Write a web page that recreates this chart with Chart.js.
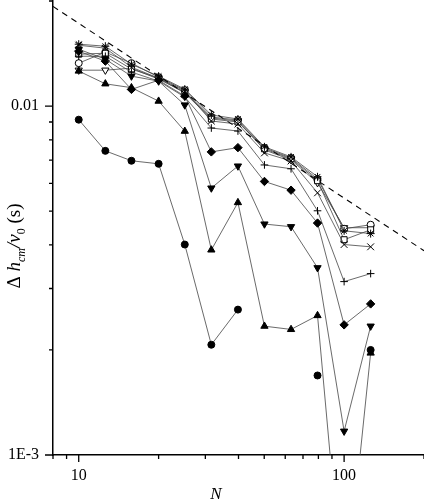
<!DOCTYPE html>
<html>
<head>
<meta charset="utf-8">
<script src="https://cdn.jsdelivr.net/npm/chart.js@4.4.0/dist/chart.umd.min.js"></script>
<style>
  html, body { margin: 0; padding: 0; background: #fff; }
  #wrap { width: 424px; height: 502px; position: relative; }
</style>
</head>
<body>
<div id="wrap"><canvas id="chartCanvas"></canvas></div>
<script>
// system sizes N (log spaced)
const nValues = [10, 12.6, 15.8, 20, 25.1, 31.6, 39.8, 50.1, 63.1, 79.4, 100, 125.9];

// delta h_cm / v_0 (s), one list per symbol
const filledCircle   = [0.00914, 0.00744, 0.00697, 0.00683, 0.00401, 0.00207, 0.00261, null, null, 0.00169, null, 0.00200];
const filledUp       = [0.0126, 0.01158, 0.01129, 0.01033, 0.00847, 0.00387, 0.00529, 0.00234, 0.00229, 0.00251, 0.00036, 0.00196];
const filledDown     = [0.01455, 0.01362, 0.01218, 0.01179, 0.01007, 0.00582, 0.00673, 0.00459, 0.00451, 0.00344, 0.00117, 0.00234];
const filledDiamond  = [0.01436, 0.01345, 0.01116, 0.01186, 0.01068, 0.00739, 0.0076, 0.00608, 0.00574, 0.00462, 0.00236, 0.00271];
const plusSeries     = [0.01389, 0.01389, 0.01251, 0.01179, 0.01061, 0.00865, 0.00848, 0.00678, 0.00661, 0.00501, 0.00314, 0.00331];
const crossSeries    = [0.01494, 0.01465, 0.01292, 0.01202, 0.01104, 0.00906, 0.00888, 0.00734, 0.00696, 0.00564, 0.00401, 0.00395];
const openSquare     = [0.01408, 0.01417, 0.01276, 0.01202, 0.01089, 0.00918, 0.009, 0.00754, 0.00706, 0.00611, 0.00414, 0.00442];
const openCircle     = [0.01327, 0.01427, 0.01327, 0.0121, 0.01111, 0.0093, 0.00912, 0.00759, 0.0071, 0.00618, 0.00445, 0.00457];
const openDown       = [0.01267, 0.01267, 0.01284, 0.01194, 0.01096, 0.00924, 0.00906, 0.00749, 0.00701, 0.00603, 0.00448, 0.00448];
const starSeries     = [0.01504, 0.01484, 0.01318, 0.01218, 0.01118, 0.00943, 0.00918, 0.00764, 0.00715, 0.00627, 0.00439, 0.00431];

// dashed guide line, end points
const guideN = [8, 200];
const guideY = [0.0193, 0.00385];

// axes
const xMajorTicks = [10, 100];
const xTickLabels = ['10', '100'];
const xMinorTicks = [8, 9, 20, 30, 40, 50, 60, 70, 80, 90, 200];
const yMajorTicks = [0.001, 0.01];
const yTickLabels = ['1E-3', '0.01'];
const yMinorTicks = [0.002, 0.003, 0.004, 0.005, 0.006, 0.007, 0.008, 0.009, 0.02];

const serif = '"Liberation Serif", "Times New Roman", serif';
const lineColor = '#444';

function toPoints(values) {
  return nValues.map((n, i) => ({ x: n, y: values[i] }));
}

function series(values, style, opts) {
  return Object.assign({
    data: toPoints(values),
    borderColor: lineColor,
    borderWidth: 0.8,
    pointStyle: style,
    pointRadius: 3.6,
    pointBorderColor: '#000',
    pointBackgroundColor: '#000',
    pointBorderWidth: 1,
    spanGaps: false,
    tension: 0
  }, opts || {});
}

// axis ticks, labels and titles drawn by hand
const axisDecor = {
  id: 'axisDecor',
  afterDraw(chart) {
    const { ctx, chartArea: area, scales: { x, y } } = chart;
    ctx.save();
    ctx.strokeStyle = '#000';
    ctx.lineWidth = 1.3;
    ctx.beginPath();
    xMajorTicks.forEach(v => {
      const px = x.getPixelForValue(v);
      ctx.moveTo(px, area.bottom); ctx.lineTo(px, area.bottom + 7);
    });
    xMinorTicks.forEach(v => {
      const px = x.getPixelForValue(v);
      ctx.moveTo(px, area.bottom); ctx.lineTo(px, area.bottom + 4);
    });
    yMajorTicks.forEach(v => {
      const py = y.getPixelForValue(v);
      ctx.moveTo(area.left, py); ctx.lineTo(area.left - 8, py);
    });
    yMinorTicks.forEach(v => {
      const py = y.getPixelForValue(v);
      ctx.moveTo(area.left, py); ctx.lineTo(area.left - 4, py);
    });
    ctx.stroke();

    ctx.fillStyle = '#000';
    ctx.font = '16px ' + serif;
    ctx.textAlign = 'center';
    ctx.textBaseline = 'top';
    xMajorTicks.forEach((v, i) => ctx.fillText(xTickLabels[i], x.getPixelForValue(v), area.bottom + 13));
    ctx.textAlign = 'right';
    ctx.textBaseline = 'middle';
    yMajorTicks.forEach((v, i) => ctx.fillText(yTickLabels[i], area.left - 14, y.getPixelForValue(v)));

    // x title
    ctx.font = 'italic 17px ' + serif;
    ctx.textAlign = 'center';
    ctx.textBaseline = 'alphabetic';
    ctx.fillText('N', 216, 499);

    // y title with subscripts
    const parts = [
      { t: '\u0394 ', f: '19px ' + serif, dy: 0 },
      { t: 'h', f: 'italic 19px ' + serif, dy: 0 },
      { t: 'cm', f: 'italic 12px ' + serif, dy: 5 },
      { t: '/', f: 'italic 19px ' + serif, dy: 0 },
      { t: 'v', f: 'italic 19px ' + serif, dy: 0 },
      { t: '0', f: '12px ' + serif, dy: 5 },
      { t: ' (s)', f: '19px ' + serif, dy: 0 }
    ];
    let total = 0;
    parts.forEach(p => { ctx.font = p.f; p.w = ctx.measureText(p.t).width; total += p.w; });
    ctx.translate(20, 246);
    ctx.rotate(-Math.PI / 2);
    ctx.textAlign = 'left';
    let cx = -total / 2;
    parts.forEach(p => { ctx.font = p.f; ctx.fillText(p.t, cx, p.dy); cx += p.w; });
    ctx.restore();
  }
};

const ctx = document.getElementById('chartCanvas').getContext('2d');
const chart = new Chart(ctx, {
  type: 'line',
  data: {
    datasets: [
      {
        data: guideN.map((n, i) => ({ x: n, y: guideY[i] })),
        borderColor: '#000',
        borderWidth: 1.1,
        borderDash: [6, 5],
        pointRadius: 0
      },
      series(filledCircle, 'circle', { pointRadius: 3.5 }),
      series(filledUp, 'triangle', { pointRadius: 4.2 }),
      series(filledDown, 'triangle', { pointRadius: 4.2, pointRotation: 180 }),
      series(filledDiamond, 'rectRot', { pointRadius: 4.2 }),
      series(plusSeries, 'cross', { pointRadius: 3.8, pointBackgroundColor: '#fff' }),
      series(crossSeries, 'crossRot', { pointRadius: 4.8, pointBackgroundColor: '#fff' }),
      series(starSeries, 'star', { pointRadius: 4, pointBackgroundColor: '#fff' }),
      series(openSquare, 'rect', { pointRadius: 4.2, pointBackgroundColor: '#fff' }),
      series(openCircle, 'circle', { pointRadius: 3.5, pointBackgroundColor: '#fff' }),
      series(openDown, 'triangle', { pointRadius: 4.2, pointRotation: 180, pointBackgroundColor: '#fff' })
    ]
  },
  options: {
    responsive: true,
    maintainAspectRatio: false,
    animation: false,
    layout: { padding: { top: 1, right: 0, bottom: 0, left: 0 }, autoPadding: false },
    plugins: {
      legend: { display: false },
      tooltip: { enabled: false }
    },
    scales: {
      x: {
        type: 'logarithmic',
        min: 8,
        max: 200,
        grid: { display: false },
        border: { display: true, color: '#000', width: 1.5 },
        ticks: { display: false },
        afterFit: s => { s.height = 47; }
      },
      y: {
        type: 'logarithmic',
        min: 0.001,
        max: 0.02,
        grid: { display: false },
        border: { display: true, color: '#000', width: 1.5 },
        ticks: { display: false },
        afterFit: s => { s.width = 53; }
      }
    }
  },
  plugins: [axisDecor]
});
</script>
</body>
</html>
